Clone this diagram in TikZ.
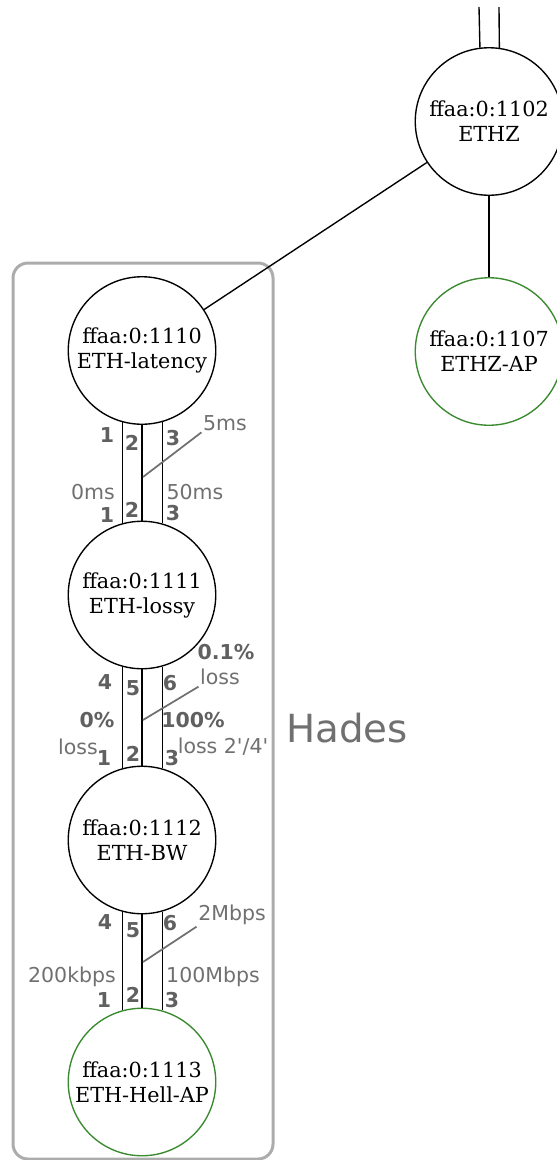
\documentclass[tikz,border=0pt]{standalone}
\usepackage{fontspec}
\setmainfont{DejaVu Serif}
\setsansfont{DejaVu Sans}[Ligatures=TeXOff]
\usepackage{tikz}
\usetikzlibrary{calc}
\definecolor{apgreen}{RGB}{58,138,48}
\definecolor{lblgray}{RGB}{112,112,112}
\definecolor{numgray}{RGB}{96,96,96}
\definecolor{boxgray}{RGB}{172,172,172}

\begin{document}
\begin{tikzpicture}[x=0.4pt,y=-0.4pt,
  as/.style={circle,draw,line width=0.55pt,minimum size=59pt,inner sep=0pt,align=center,font=\fontsize{8.3}{10}\selectfont},
  ap/.style={as,draw=apgreen},
  lbl/.style={text=lblgray,inner sep=0.5pt,font=\sffamily\fontsize{8.2}{9.5}\selectfont},
  num/.style={text=numgray,inner sep=0.5pt,font=\sffamily\bfseries\fontsize{8.2}{9.5}\selectfont},
  lead/.style={draw=lblgray,line width=0.7pt}]
\useasboundingbox (0,0) rectangle (556,1160);
\draw[boxgray,line width=1.2pt,rounded corners=6pt] (13,263) rectangle (273,1159);
\node[text=lblgray,font=\sffamily\fontsize{15.5}{18}\selectfont] (hades) at (347,728) {Hades};

\node[as] (ethz) at (489,121.5) {ffaa:0:1102\\ETHZ};
\node[ap] (ethzap) at (489,351.5) {ffaa:0:1107\\ETHZ-AP};
\node[as] (lat) at (142,350.5) {ffaa:0:1110\\ETH-latency};
\node[as] (lossy) at (142,595) {ffaa:0:1111\\ETH-lossy};
\node[as] (bw) at (142,840) {ffaa:0:1112\\ETH-BW};
\node[ap] (hell) at (142,1082) {ffaa:0:1113\\ETH-Hell-AP};

\coordinate (up1) at (479,7);
\coordinate (up2) at (499,7);
\draw[line width=0.55pt] (ethz.97.8) -- (up1);
\draw[line width=0.55pt] (ethz.82.2) -- (up2);
\draw[line width=0.55pt] (ethz) -- (lat);
\draw[line width=0.55pt] (ethz) -- (ethzap);

\foreach \a/\b in {lat/lossy,lossy/bw,bw/hell}
  \foreach \t in {74.3,90,105.7}
    \draw[line width=0.55pt] (\a.-\t) -- (\b.\t);

\node[num] (la1) at (107,435) {1};
\node[num] (la2) at (132,443) {2};
\node[num] (la3) at (173,438) {3};
\node[lbl] (lad) at (225,423) {5ms};
\node[lbl] (lal) at (93,492) {0ms};
\node[lbl] (lar) at (195,492) {50ms};
\node[num] (lb1) at (107,515) {1};
\node[num] (lb2) at (132,510) {2};
\node[num] (lb3) at (173,513) {3};
\coordinate (m1) at (143,477);
\draw[lead] (m1) -- (lad.south west);

\node[num] (ma4) at (105,682) {4};
\node[num] (ma5) at (133,688) {5};
\node[num] (ma6) at (170,683) {6};
\node[num] (mad) at (226,652) {0.1\%};
\node[lbl] (mae) at (220,677) {loss};
\node[num] (mal) at (97,720) {0\%};
\node[num] (mar) at (193,720) {100\%};
\node[lbl] (mll) at (78,747) {loss};
\node[lbl] (mlr) at (223,747) {loss 2'/4'};
\node[num] (mb1) at (104,758) {1};
\node[num] (mb2) at (133,754) {2};
\node[num] (mb3) at (172,758) {3};
\coordinate (m2) at (143,720);
\draw[lead] (m2) -- (mae.south west);

\node[num] (na4) at (105,922) {4};
\node[num] (na5) at (133,930) {5};
\node[num] (na6) at (170,923) {6};
\node[lbl] (nad) at (232,915) {2Mbps};
\node[lbl] (nal) at (72,977) {200kbps};
\node[lbl] (nar) at (213,977) {100Mbps};
\node[num] (nb1) at (104,1000) {1};
\node[num] (nb2) at (133,995) {2};
\node[num] (nb3) at (172,1000) {3};
\coordinate (m3) at (143,962);
\draw[lead] (m3) -- (nad.south west);
\end{tikzpicture}
\end{document}
